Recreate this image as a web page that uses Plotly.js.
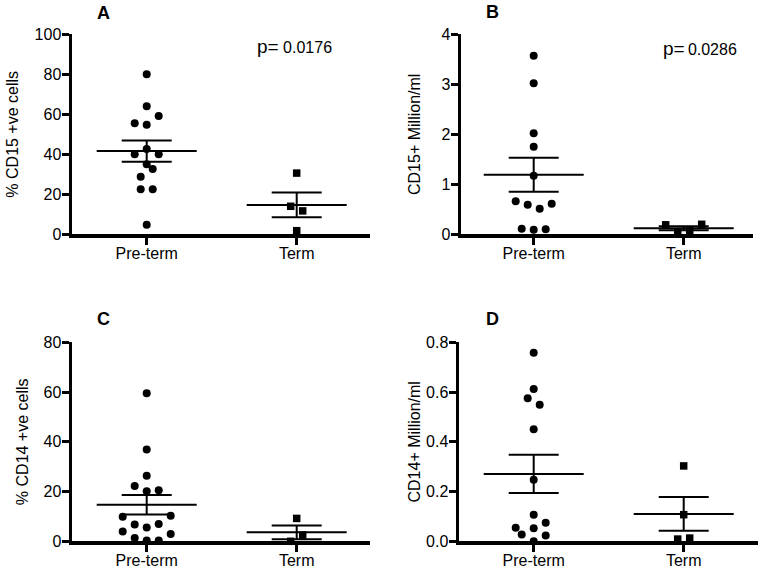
<!DOCTYPE html>
<html>
<head>
<meta charset="utf-8">
<script src="https://cdn.plot.ly/plotly-3.0.1.min.js"></script>
<style>
  html, body { margin: 0; padding: 0; background: #fff; }
  #plot { width: 762px; height: 568px; }
</style>
</head>
<body>
<div id="plot"></div>
<script>
// groups on the x axis
var groups = ['Pre-term', 'Term'];

// panel A: % CD15 +ve cells
var aPre = [80, 64, 59.2, 55.5, 54.8, 42.6, 40, 40, 35, 32.7, 28.8, 22.5, 22.5, 4.8];
var aPreJit = [0, 0, 0.08, -0.08, 0, 0, -0.08, 0.08, 0, 0.04, -0.04, -0.04, 0.04, 0];
var aTerm = [30.6, 14, 11.7, 1.8];
var aTermJit = [0, -0.04, 0.04, 0];
var aMean = [41.6, 14.7];
var aSem = [5.3, 6.2];

// panel B: CD15+ Million/ml
var bPre = [3.57, 3.02, 2.02, 1.75, 1.17, 0.66, 0.59, 0.51, 0.61, 0.11, 0.09, 0.10];
var bPreJit = [0, 0, 0, 0, 0, -0.12, -0.04, 0.04, 0.12, -0.08, 0, 0.08];
var bTerm = [0.19, 0.05, 0.07, 0.20];
var bTermJit = [-0.12, -0.04, 0.04, 0.12];
var bMean = [1.19, 0.12];
var bSem = [0.34, 0.04];

// panel C: % CD14 +ve cells
var cPre = [59.5, 36.9, 26.4, 22.2, 20.5, 20.1, 9.9, 10.3, 6.8, 5.5, 7.0, 3.9, 2.9, 1.3, 0.3, 0.3];
var cPreJit = [0, 0, 0, -0.08, 0.08, 0, -0.16, 0.16, -0.08, 0, 0.08, -0.16, 0.16, -0.08, 0, 0.08];
var cTerm = [9.2, 2.5, 0];
var cTermJit = [0, 0.04, -0.04];
var cMean = [14.7, 3.6];
var cSem = [3.9, 2.8];

// panel D: CD14+ Million/ml
var dPre = [0.758, 0.612, 0.575, 0.549, 0.45, 0.247, 0.107, 0.054, 0.075, 0.052, 0.027, 0.023, 0.0];
var dPreJit = [0, 0, -0.04, 0.04, 0, 0, 0, -0.12, 0.08, 0, -0.08, 0.08, 0];
var dTerm = [0.303, 0.107, 0.009, 0.013];
var dTermJit = [0, 0, -0.04, 0.04];
var dMean = [0.271, 0.11];
var dSem = [0.077, 0.068];

var W = 762, H = 568;
var FONT = '"Liberation Sans", Arial, sans-serif';

function px(x) { return x / W; }
function py(y) { return 1 - y / H; }

function jittered(group, jit) {
  return jit.map(function (j) { return group + j; });
}

function panelTraces(n, pre, preJit, term, termJit, mean, sem) {
  var xa = n === 1 ? 'x' : 'x' + n;
  var ya = n === 1 ? 'y' : 'y' + n;
  var hw = 1 / 3;
  var mx = [], my = [];
  for (var g = 0; g < 2; g++) {
    mx.push(g - hw, g + hw, null);
    my.push(mean[g], mean[g], null);
  }
  return [
    { type: 'scatter', mode: 'lines', x: mx, y: my, xaxis: xa, yaxis: ya,
      line: { color: '#000', width: 2 }, hoverinfo: 'skip', cliponaxis: false },
    { type: 'scatter', mode: 'markers', x: [0, 1], y: mean, xaxis: xa, yaxis: ya,
      marker: { size: 1, color: 'rgba(0,0,0,0)' }, cliponaxis: false,
      error_y: { type: 'data', array: sem, visible: true, color: '#000', thickness: 2, width: 25 } },
    { type: 'scatter', mode: 'markers', x: jittered(0, preJit), y: pre, xaxis: xa, yaxis: ya,
      name: groups[0], cliponaxis: false,
      marker: { symbol: 'circle', size: 8, color: '#000' } },
    { type: 'scatter', mode: 'markers', x: jittered(1, termJit), y: term, xaxis: xa, yaxis: ya,
      name: groups[1], cliponaxis: false,
      marker: { symbol: 'square', size: 7.5, color: '#000' } }
  ];
}

var data = []
  .concat(panelTraces(1, aPre, aPreJit, aTerm, aTermJit, aMean, aSem))
  .concat(panelTraces(2, bPre, bPreJit, bTerm, bTermJit, bMean, bSem))
  .concat(panelTraces(3, cPre, cPreJit, cTerm, cTermJit, cMean, cSem))
  .concat(panelTraces(4, dPre, dPreJit, dTerm, dTermJit, dMean, dSem));

function xAxis(left, right, preTick, anchor) {
  return {
    domain: [px(left), px(right)],
    range: [(left - preTick) / 150, (right - preTick) / 150],
    anchor: anchor,
    tickmode: 'array', tickvals: [0, 1], ticktext: groups,
    showline: true, linecolor: '#000', linewidth: 3.5,
    ticks: 'outside', ticklen: 7, tickwidth: 3, tickcolor: '#000',
    ticklabelstandoff: -5,
    showgrid: false, zeroline: false,
    tickfont: { family: FONT, size: 16, color: '#000' }
  };
}

function yAxis(top, bottom, range, dtick, fmt, title, anchor, standoff) {
  return {
    domain: [py(bottom), py(top)],
    range: range,
    anchor: anchor,
    dtick: dtick, tick0: 0, tickformat: fmt,
    showline: true, linecolor: '#000', linewidth: 3.5,
    ticks: 'outside', ticklen: 7, tickwidth: 3, tickcolor: '#000',
    ticklabelstandoff: -3,
    showgrid: false, zeroline: false,
    tickfont: { family: FONT, size: 16, color: '#000' },
    title: { text: title, font: { family: FONT, size: 16, color: '#000' }, standoff: standoff }
  };
}

function label(txt, x, y) {
  return { text: '<b>' + txt + '</b>', x: px(x), y: py(y), xref: 'paper', yref: 'paper',
    xanchor: 'center', yanchor: 'middle',
    showarrow: false, font: { family: FONT, size: 18, color: '#000' } };
}

function pval(num, gap, x, y) {
  return { text: 'p=<span style="font-size:16px">' + gap + num + '</span>', x: px(x), y: py(y),
    xref: 'paper', yref: 'paper', xanchor: 'center', yanchor: 'middle', showarrow: false,
    font: { family: FONT, size: 19, color: '#000' } };
}

var layout = {
  width: W, height: H,
  margin: { l: 0, r: 0, t: 0, b: 0 },
  paper_bgcolor: '#fff', plot_bgcolor: '#fff',
  showlegend: false,
  xaxis: xAxis(72, 370, 146.7, 'y'),
  yaxis: yAxis(34.3, 234.3, [0, 100], 20, '', '% CD15 +ve cells', 'x', 13),
  xaxis2: xAxis(461, 753, 533.7, 'y2'),
  yaxis2: yAxis(34.3, 234.3, [0, 4], 1, '', 'CD15+ Million/ml', 'x2', 18),
  xaxis3: xAxis(72, 370, 146.7, 'y3'),
  yaxis3: yAxis(342.3, 541.3, [0, 80], 20, '', '% CD14 +ve cells', 'x3', 12),
  xaxis4: xAxis(459, 758, 533.7, 'y4'),
  yaxis4: yAxis(342.3, 541.3, [0, 0.8], 0.2, '.1f', 'CD14+ Million/ml', 'x4', 2),
  annotations: [
    label('A', 103, 13),
    label('B', 492, 12),
    label('C', 103, 319),
    label('D', 492, 319),
    pval('0.0176', ' ', 294, 46),
    pval('0.0286', '\u2009', 700, 48)
  ]
};

Plotly.newPlot('plot', data, layout, { displayModeBar: false, staticPlot: true });
</script>
</body>
</html>
